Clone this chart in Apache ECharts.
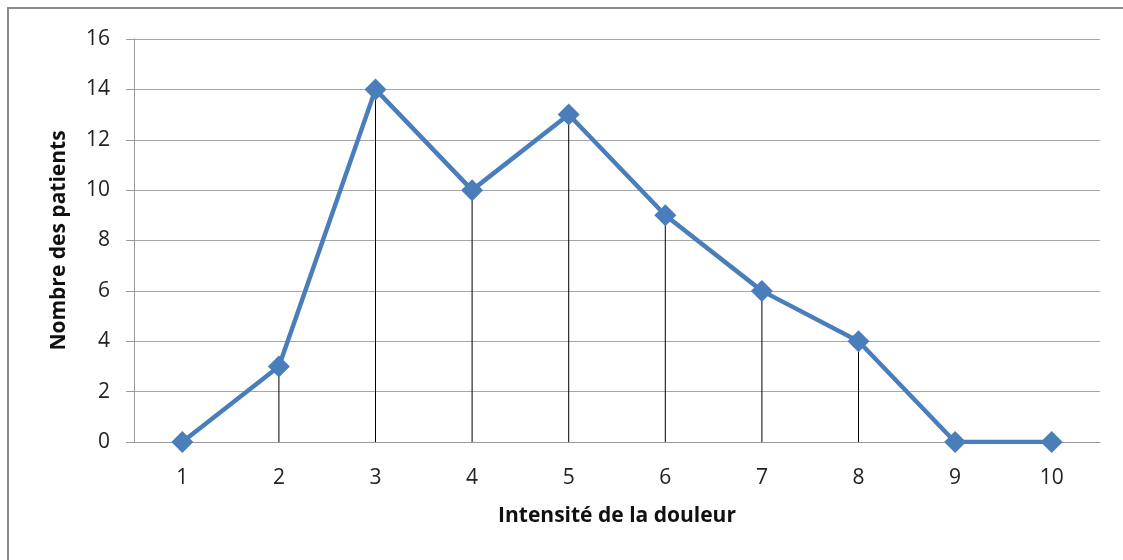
<!DOCTYPE html>
<html style="height: 100%">
<head>
    <meta charset="utf-8">
    <title>Intensité de la douleur</title>
</head>
<body style="height: 100%; margin: 0; background: #fff">
<div id="container" style="width: 1123px; height: 560px"></div>
<script type="text/javascript" src="https://cdn.jsdelivr.net/npm/echarts@6/dist/echarts.min.js"></script>
<script type="text/javascript">
    var categories = ['1', '2', '3', '4', '5', '6', '7', '8', '9', '10'];
    var patients = [0, 3, 14, 10, 13, 9, 6, 4, 0, 0];
    var yTicks = { min: 0, max: 16, interval: 2 };

    var font = 'Open Sans, Liberation Sans, sans-serif';
    var myChart = echarts.init(document.getElementById('container'));

    var option = {
        animation: false,
        backgroundColor: '#fff',
        graphic: [{
            type: 'rect',
            shape: { x: 8, y: 8, width: 1300, height: 700 },
            style: { fill: 'none', stroke: '#8a8a8a', lineWidth: 2 },
            silent: true
        }],
        grid: { left: 134, right: 23, top: 39, bottom: 118 },
        xAxis: {
            type: 'category',
            data: categories,
            name: 'Intensité de la douleur',
            nameLocation: 'middle',
            nameGap: 64,
            nameTextStyle: { fontFamily: font, fontSize: 21, fontWeight: 'bold', color: '#111' },
            axisLine: { lineStyle: { color: '#9a9a9a', width: 1 } },
            axisTick: { show: false },
            axisLabel: { fontFamily: font, fontSize: 21, color: '#222', margin: 26 }
        },
        yAxis: {
            type: 'value',
            min: yTicks.min,
            max: yTicks.max,
            interval: yTicks.interval,
            name: 'Nombre des patients',
            nameLocation: 'middle',
            nameGap: 64,
            nameTextStyle: { fontFamily: font, fontSize: 21, fontWeight: 'bold', color: '#111' },
            axisLine: { show: true, lineStyle: { color: '#9a9a9a', width: 1 } },
            axisTick: { show: true, length: 8, lineStyle: { color: '#9a9a9a' } },
            axisLabel: { fontFamily: font, fontSize: 21, color: '#222', margin: 24 },
            splitLine: { lineStyle: { color: '#a6a6a6', width: 1 } }
        },
        series: [{
            name: 'drop',
            type: 'bar',
            data: patients,
            barWidth: 1,
            itemStyle: { color: '#000' },
            silent: true
        }, {
            name: 'Nombre des patients',
            type: 'line',
            data: patients,
            symbol: 'diamond',
            symbolSize: 22,
            lineStyle: { color: '#4a7ebb', width: 4.5 },
            itemStyle: { color: '#4a7ebb' }
        }]
    };
    myChart.setOption(option);
</script>
</body>
</html>
